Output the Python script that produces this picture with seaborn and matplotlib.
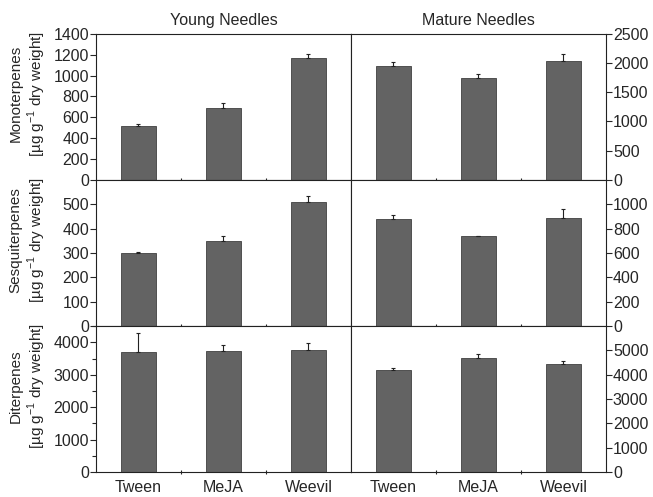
import numpy as np
import pandas as pd
import matplotlib
matplotlib.use("Agg")
import matplotlib.pyplot as plt
import seaborn as sns
from matplotlib.ticker import MultipleLocator

# Data
treatments = ["Tween", "MeJA", "Weevil"]

mono_young = [520, 690, 1170]
mono_young_err = [20, 50, 35]
mono_mature = [1950, 1745, 2030]
mono_mature_err = [60, 60, 130]

sesq_young = [300, 350, 510]
sesq_young_err = [5, 20, 25]
sesq_mature = [878, 741, 890]
sesq_mature_err = [30, 0, 70]

dit_young = [3700, 3730, 3750]
dit_young_err = [590, 200, 230]
dit_mature = [4200, 4680, 4450]
dit_mature_err = [70, 160, 120]

row_labels = ["Monoterpenes", "Sesquiterpenes", "Diterpenes"]
col_titles = ["Young Needles", "Mature Needles"]

sns.set_style("ticks")
plt.rcParams['font.family'] = ['Liberation Sans', 'DejaVu Sans']
plt.rcParams['mathtext.fontset'] = 'custom'
plt.rcParams['mathtext.rm'] = 'Liberation Sans'

fig, axes = plt.subplots(3, 2, figsize=(6.53, 4.97), dpi=100)
fig.subplots_adjust(left=0.147, right=0.928, top=0.932, bottom=0.05,
                    hspace=0, wspace=0)

panels = [
    [(mono_young, mono_young_err, 1400, 200, None, None),
     (mono_mature, mono_mature_err, 2500, 500, None, 2500)],
    [(sesq_young, sesq_young_err, 600, 100, None, 500),
     (sesq_mature, sesq_mature_err, 1200, 200, None, 1000)],
    [(dit_young, dit_young_err, 4500, 1000, 500, 4000),
     (dit_mature, dit_mature_err, 6000, 1000, None, 5000)],
]

bar_color = "#636363"

for r in range(3):
    for c in range(2):
        ax = axes[r, c]
        vals, errs, ymax, step, minor, tmax = panels[r][c]
        df = pd.DataFrame({"treatment": treatments, "value": vals})
        sns.barplot(data=df, x="treatment", y="value", color=bar_color,
                    width=0.41, edgecolor="#404040", linewidth=0.6,
                    saturation=1, ax=ax, errorbar=None)
        ax.errorbar(x=np.arange(3), y=vals,
                    yerr=[np.zeros(3), errs], fmt="none",
                    ecolor="#222222", elinewidth=0.8, capsize=1.5,
                    capthick=0.8)
        ax.set_xlim(-0.5, 2.5)
        ax.set_ylim(0, ymax)
        top = tmax if tmax is not None else ymax
        ax.set_yticks(np.arange(0, top + 1, step))
        if minor:
            ax.yaxis.set_minor_locator(MultipleLocator(minor))
            ax.tick_params(axis="y", which="minor", length=3, width=0.8)
        ax.set_xlabel("")
        ax.set_ylabel("")
        # tick marks at category boundaries
        ax.set_xticks([0.5, 1.5], minor=True)
        ax.tick_params(axis="x", which="minor", length=3, width=0.8,
                       direction="inout")
        if r == 2:
            ax.set_xticks([0, 1, 2])
            ax.set_xticklabels(treatments, fontsize=11.5)
            ax.tick_params(axis="x", which="major", length=0, pad=6)
        else:
            ax.set_xticks([])
        ax.tick_params(axis="y", which="major", length=4, width=0.8,
                       labelsize=11.5, pad=1)
        if c == 1:
            ax.yaxis.tick_right()
            ax.yaxis.set_label_position("right")
        else:
            ax.set_ylabel(row_labels[r] + "\n[µg g$^{-1}$ dry weight]",
                          fontsize=11, linespacing=1.15)
            ax.yaxis.set_label_coords(-0.19, 0.59)
        for s in ax.spines.values():
            s.set_linewidth(0.8)
            s.set_color("#222222")
        if r == 0:
            ax.set_title(col_titles[c], fontsize=11.5, pad=6)

plt.savefig("out.png", dpi=100)
